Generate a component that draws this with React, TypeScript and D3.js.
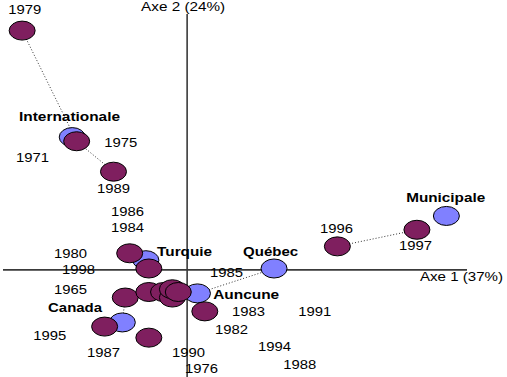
import React from "react";
import * as d3 from "d3";

// Years (purple markers): axis-1 and axis-2 coordinates
const yearMarkerX = [-1.12, -0.75, -0.5, -0.39, -0.26, -0.42, -0.26, -0.16, -0.1, -0.1, -0.06, 0.12, -0.56, -0.26, 1.02, 1.56];
const yearMarkerY = [1.73, 0.93, 0.71, 0.12, 0.01, -0.2, -0.16, -0.16, -0.2, -0.14, -0.16, -0.3, -0.41, -0.49, 0.17, 0.29];

// Categories (blue markers)
const catNames = ["Internationale", "Turquie", "Québec", "Auncune", "Canada", "Municipale"];
const catX = [-0.78, -0.28, 0.59, 0.07, -0.44, 1.76];
const catY = [0.96, 0.07, 0.01, -0.17, -0.38, 0.39];
const catLabelX = [-1.141, -0.204, 0.38, 0.177, -0.944, 1.487];
const catLabelY = [1.077, 0.101, 0.101, -0.21, -0.304, 0.492];

// Year labels and their coordinates
const yearLabels = ["1979", "1975", "1971", "1989", "1986", "1984", "1980", "1998", "1985", "1965", "1983", "1991", "1982", "1995", "1987", "1990", "1994", "1976", "1988", "1996", "1997"];
const yearLabelX = [-1.215, -0.563, -1.161, -0.611, -0.516, -0.516, -0.903, -0.849, 0.156, -0.903, 0.305, 0.754, 0.19, -1.045, -0.679, -0.102, 0.482, -0.014, 0.652, 0.903, 1.439];
const yearLabelY = [1.851, 0.889, 0.781, 0.557, 0.39, 0.275, 0.087, -0.029, -0.051, -0.174, -0.333, -0.333, -0.463, -0.506, -0.629, -0.629, -0.586, -0.745, -0.716, 0.268, 0.145];

// Dotted trajectories: [x1, y1, x2, y2]
const pathFromX = [-1.12, -0.75, -0.42, 0.07, 1.02];
const pathFromY = [1.73, 0.93, -0.2, -0.17, 0.17];
const pathToX = [-0.75, -0.5, -0.44, 0.59, 1.56];
const pathToY = [0.93, 0.71, -0.38, 0.01, 0.29];

const axisLabels = ["Axe 1 (37%)", "Axe 2 (24%)"];

const W = 507;
const H = 377;

export default function App() {
  const x = d3.scaleLinear().domain([-1.25, 1.9]).range([3, 467]);
  const y = d3.scaleLinear().domain([-0.76, 1.85]).range([375, 14]);
  const purple = "#7f1f5f";
  const blue = "#8080ff";
  const font = "'Liberation Sans', Arial, sans-serif";
  const catWidths = [101, 55, 55, 66, 54, 79];

  return (
    <div style={{ position: "absolute", left: 0, top: 0 }}>
      <svg width={W} height={H} style={{ display: "block", background: "#fff" }}>
        {/* axes */}
        <line x1={x(-1.25)} x2={x(1.9)} y1={y(0)} y2={y(0)} stroke="#3a3a3a" strokeWidth={1.6} />
        <line x1={x(0)} x2={x(0)} y1={y(1.85)} y2={H} stroke="#3a3a3a" strokeWidth={1.6} />
        <text x={x(0) - 4} y={11} fontFamily={font} fontSize={12} textAnchor="middle" textLength={84} lengthAdjust="spacingAndGlyphs">{axisLabels[1]}</text>
        <text x={420} y={281} fontFamily={font} fontSize={12} textLength={83} lengthAdjust="spacingAndGlyphs">{axisLabels[0]}</text>

        {/* dotted lines */}
        {pathFromX.map((_, i) => (
          <line key={"p" + i} x1={x(pathFromX[i])} y1={y(pathFromY[i])} x2={x(pathToX[i])} y2={y(pathToY[i])}
            stroke="#333" strokeWidth={1} strokeDasharray="1,2" />
        ))}

        {/* year labels */}
        {yearLabels.map((t, i) => (
          <text key={"yl" + i} x={x(yearLabelX[i])} y={y(yearLabelY[i])} fontFamily={font} fontSize={12}
            textLength={33} lengthAdjust="spacingAndGlyphs" fill="#000">{t}</text>
        ))}

        {/* category markers */}
        {catX.map((_, i) => (
          <ellipse key={"c" + i} cx={x(catX[i])} cy={y(catY[i])} rx={13} ry={9.5} fill={blue} stroke="#000" strokeWidth={1} />
        ))}
        {/* year markers */}
        {yearMarkerX.map((_, i) => (
          <ellipse key={"y" + i} cx={x(yearMarkerX[i])} cy={y(yearMarkerY[i])} rx={13} ry={9.5} fill={purple} stroke="#000" strokeWidth={1} />
        ))}

        {/* category labels */}
        {catNames.map((t, i) => (
          <text key={"cl" + i} x={x(catLabelX[i])} y={y(catLabelY[i])} fontFamily={font} fontSize={12} fontWeight="bold"
            textLength={catWidths[i]} lengthAdjust="spacingAndGlyphs" fill="#000">{t}</text>
        ))}
      </svg>
    </div>
  );
}
